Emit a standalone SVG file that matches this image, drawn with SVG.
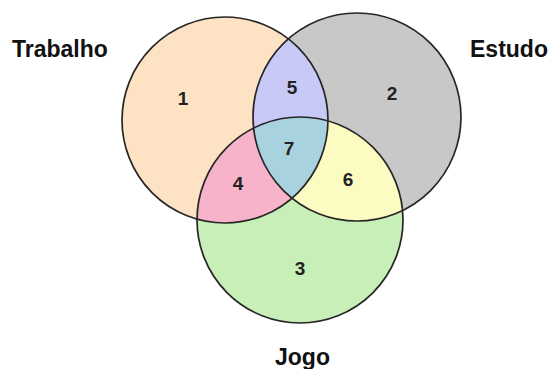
<svg xmlns="http://www.w3.org/2000/svg" width="552" height="369" viewBox="0 0 552 369">
<style>
.lbl{font-family:"Liberation Sans",Arial,sans-serif;font-weight:bold;font-size:23px;fill:#111}
.num{font-family:"Liberation Sans",Arial,sans-serif;font-weight:bold;font-size:19px;fill:#222;text-anchor:middle}
.edge{fill:none;stroke:#262626;stroke-width:1.7}
</style>
<defs>
<clipPath id="k1"><circle cx="225" cy="120" r="103"/></clipPath>
<clipPath id="k2"><circle cx="357" cy="117" r="104"/></clipPath>
</defs>
<rect width="552" height="369" fill="#ffffff"/>
<g id="trabalho">
<circle cx="225" cy="120" r="103" fill="#fde2c3"/>
</g>
<g id="estudo">
<circle cx="357" cy="117" r="104" fill="#c8c8c8"/>
</g>
<g id="jogo">
<circle cx="300" cy="220" r="103" fill="#c9efb9"/>
</g>
<g id="intersections">
<circle cx="357" cy="117" r="104" fill="#c9c9f7" clip-path="url(#k1)"/>
<circle cx="300" cy="220" r="103" fill="#f7b3c9" clip-path="url(#k1)"/>
<circle cx="300" cy="220" r="103" fill="#fcfcc2" clip-path="url(#k2)"/>
<g clip-path="url(#k1)"><circle cx="300" cy="220" r="103" fill="#a9d2df" clip-path="url(#k2)"/></g>
</g>
<g id="outlines">
<circle class="edge" cx="225" cy="120" r="103"/>
<circle class="edge" cx="357" cy="117" r="104"/>
<circle class="edge" cx="300" cy="220" r="103"/>
</g>
<g id="numbers">
<text class="num" x="183" y="105">1</text>
<text class="num" x="392" y="100">2</text>
<text class="num" x="300" y="275">3</text>
<text class="num" x="238" y="190">4</text>
<text class="num" x="292" y="94">5</text>
<text class="num" x="348" y="186">6</text>
<text class="num" x="289" y="155">7</text>
</g>
<g id="labels">
<text class="lbl" x="12" y="57">Trabalho</text>
<text class="lbl" x="470" y="57">Estudo</text>
<text class="lbl" x="275" y="365">Jogo</text>
</g>
</svg>
